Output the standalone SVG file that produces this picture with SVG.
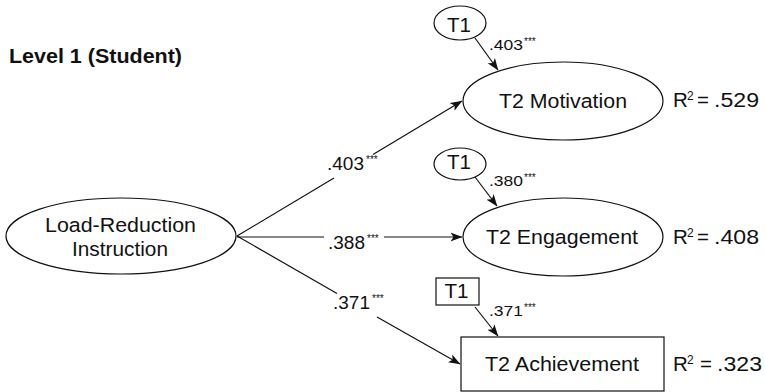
<svg xmlns="http://www.w3.org/2000/svg" width="765" height="392" viewBox="0 0 765 392">
<style>
text{font-family:"Liberation Sans",Arial,sans-serif;fill:#111}
.node{fill:#fff;stroke:#111;stroke-width:1.2}
.lbl{font-size:20.5px}
.coef{font-size:18px}
.small{font-size:15px}
.star{font-size:10px}
.sup{font-size:12px}
.line{stroke:#111;stroke-width:1.2;fill:none}
.arr{marker-end:url(#ah)}
</style>
<defs>
<marker id="ah" viewBox="0 0 12 10" refX="11.5" refY="5" markerWidth="12" markerHeight="10" markerUnits="userSpaceOnUse" orient="auto">
<path d="M0,0.5 L12,5 L0,9.5 L3,5 z" fill="#111"/>
</marker>
</defs>
<rect width="765" height="392" fill="#fff"/>
<text x="9" y="63" font-weight="bold" font-size="20.5" textLength="173" lengthAdjust="spacingAndGlyphs">Level 1 (Student)</text>

<g id="connectors">
<line class="line" x1="237" y1="236" x2="334" y2="178"/>
<line class="line arr" x1="373" y1="154.5" x2="462" y2="101"/>
<line class="line" x1="237" y1="237" x2="324" y2="237"/>
<line class="line arr" x1="384" y1="237" x2="462" y2="237"/>
<line class="line" x1="237" y1="236" x2="337" y2="293.5"/>
<line class="line arr" x1="377" y1="317" x2="460" y2="364"/>
<line class="line arr" x1="475" y1="38" x2="498" y2="70"/>
<line class="line arr" x1="475" y1="177" x2="497" y2="206"/>
<line class="line arr" x1="475" y1="307" x2="498" y2="336"/>
<text class="coef" x="327" y="170" textLength="37" lengthAdjust="spacingAndGlyphs">.403</text>
<text class="star" x="366" y="163">***</text>
<text class="coef" x="328" y="249" textLength="37" lengthAdjust="spacingAndGlyphs">.388</text>
<text class="star" x="367" y="242">***</text>
<text class="coef" x="333" y="309" textLength="37" lengthAdjust="spacingAndGlyphs">.371</text>
<text class="star" x="372" y="302">***</text>
<text class="small" x="489" y="50" textLength="34" lengthAdjust="spacingAndGlyphs">.403</text>
<text class="star" x="524" y="45" font-size="9">***</text>
<text class="small" x="489" y="186" textLength="34" lengthAdjust="spacingAndGlyphs">.380</text>
<text class="star" x="524" y="181" font-size="9">***</text>
<text class="small" x="489" y="316" textLength="34" lengthAdjust="spacingAndGlyphs">.371</text>
<text class="star" x="524" y="311" font-size="9">***</text>
</g>

<g id="lri">
<ellipse class="node" cx="121" cy="236" rx="115" ry="38"/>
<text class="lbl" x="120.5" y="232" text-anchor="middle" textLength="151" lengthAdjust="spacingAndGlyphs">Load-Reduction</text>
<text class="lbl" x="120" y="256" text-anchor="middle" textLength="96" lengthAdjust="spacingAndGlyphs">Instruction</text>
</g>

<g id="t1-mot">
<ellipse class="node" cx="460" cy="23" rx="26" ry="17"/>
<text class="lbl" x="459" y="32" text-anchor="middle" textLength="24" lengthAdjust="spacingAndGlyphs">T1</text>
</g>
<g id="mot">
<ellipse class="node" cx="563" cy="101" rx="100" ry="39"/>
<text class="lbl" x="563" y="108" text-anchor="middle" textLength="128" lengthAdjust="spacingAndGlyphs">T2 Motivation</text>
</g>
<g id="r2-mot">
<text class="lbl" x="673" y="107">R</text><text class="sup" x="687" y="100">2</text><text class="lbl" x="697" y="107">=</text><text class="lbl" x="714" y="107" textLength="45" lengthAdjust="spacingAndGlyphs">.529</text>
</g>

<g id="t1-eng">
<ellipse class="node" cx="460" cy="164" rx="26" ry="16"/>
<text class="lbl" x="459" y="169" text-anchor="middle" textLength="24" lengthAdjust="spacingAndGlyphs">T1</text>
</g>
<g id="eng">
<ellipse class="node" cx="563" cy="237" rx="100" ry="39"/>
<text class="lbl" x="562" y="244" text-anchor="middle" textLength="152" lengthAdjust="spacingAndGlyphs">T2 Engagement</text>
</g>
<g id="r2-eng">
<text class="lbl" x="673" y="244">R</text><text class="sup" x="687" y="237">2</text><text class="lbl" x="697" y="244">=</text><text class="lbl" x="714" y="244" textLength="45" lengthAdjust="spacingAndGlyphs">.408</text>
</g>

<g id="t1-ach">
<rect class="node" x="436" y="278" width="43" height="27"/>
<text class="lbl" x="456.5" y="298" text-anchor="middle" textLength="24" lengthAdjust="spacingAndGlyphs">T1</text>
</g>
<g id="ach">
<rect class="node" x="461" y="337" width="203" height="54"/>
<text class="lbl" x="562" y="371" text-anchor="middle" textLength="154" lengthAdjust="spacingAndGlyphs">T2 Achievement</text>
</g>
<g id="r2-ach">
<text class="lbl" x="673" y="371">R</text><text class="sup" x="687" y="364">2</text><text class="lbl" x="700" y="371">=</text><text class="lbl" x="717" y="371" textLength="45" lengthAdjust="spacingAndGlyphs">.323</text>
</g>
</svg>
